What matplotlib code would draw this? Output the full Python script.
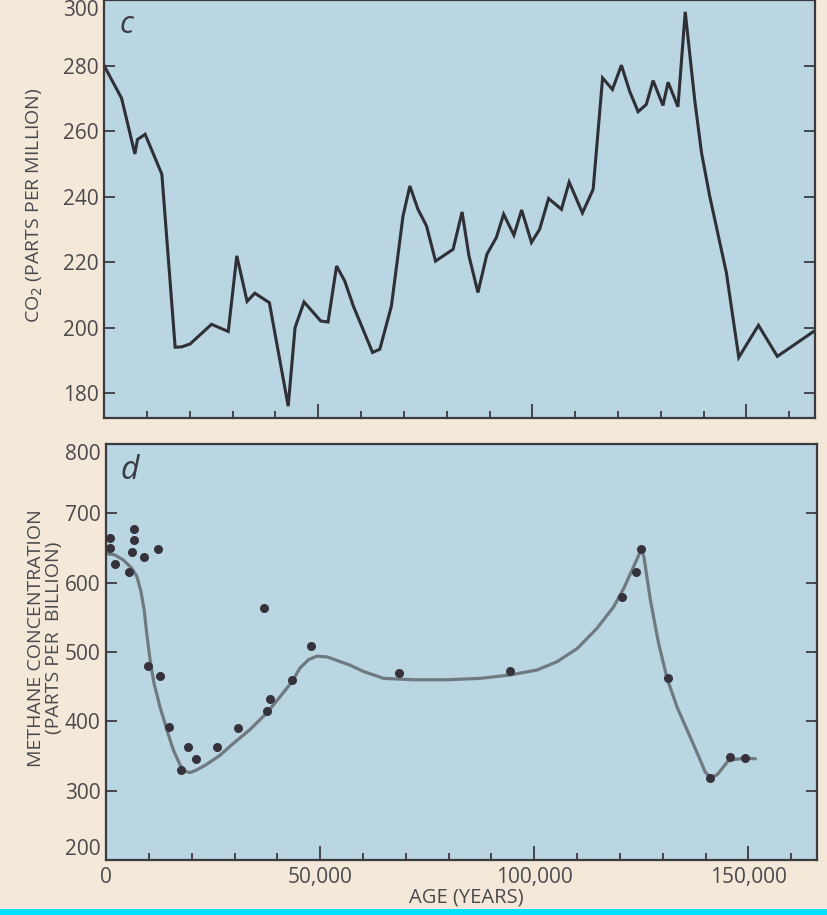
import numpy as np
import matplotlib
matplotlib.use("Agg")
import matplotlib.pyplot as plt
from matplotlib.ticker import MultipleLocator, FuncFormatter
from matplotlib.patches import Rectangle

# CO2 record (age in thousands of years, ppm)
co2_age = [0, 4.1, 7.2, 7.8, 9.6, 13.5, 16.6, 18.1, 20.1, 25.1, 29.0, 31.0, 33.4,
           35.2, 38.6, 43.0, 44.6, 46.7, 50.6, 52.3, 54.3, 56.2, 58.2, 62.7, 64.4,
           67.1, 69.8, 71.4, 73.3, 75.3, 77.4, 81.5, 83.6, 85.2, 87.3, 89.4, 91.6,
           93.3, 95.7, 97.5, 99.8, 101.7, 103.8, 106.8, 108.6, 111.7, 114.2, 116.4,
           118.7, 120.8, 122.7, 124.7, 126.6, 128.2, 130.5, 131.7, 134.0, 135.7,
           137.9, 139.5, 141.4, 145.3, 148.2, 152.8, 157.2, 165.9]
co2_ppm = [280, 270, 253, 257.4, 259, 246.8, 194, 194.1, 195, 201, 198.8, 221.9, 208,
           210.5, 207.6, 176, 200, 207.8, 202, 201.7, 218.8, 214.2, 206.6, 192.4,
           193.4, 206.6, 234, 243.2, 236.1, 231, 220.3, 223.9, 235.3, 221.9, 210.7,
           222.4, 227.5, 234.6, 228.2, 235.9, 226, 230, 239.4, 236.1, 244.4, 235,
           242.2, 276.2, 272.7, 280.1, 272.2, 265.9, 268.1, 275.4, 267.8, 274.9,
           267.4, 296.4, 269.6, 253.4, 240.2, 216.8, 190.9, 200.7, 191.2, 199]

# methane measurements (age in thousands of years, ppb)
ch4_age = [0.9, 0.9, 2.2, 5.4, 6.1, 6.5, 6.5, 8.9, 12.1, 9.7, 12.5, 14.6, 17.6, 19.2,
           20.9, 25.8, 30.9, 36.8, 37.5, 38.2, 43.4, 47.9, 68.5, 94.4, 120.5, 123.8,
           124.9, 131.2, 141.1, 145.7, 149.3]
ch4_ppb = [665, 650, 627, 615, 645, 661, 677, 637, 649, 480, 465, 392, 330, 363, 345,
           363, 390, 564, 415, 432, 460, 509, 470, 473, 579, 616, 648, 462, 319, 349, 347]

# smoothed methane trend
fit_age = [0.3, 2.1, 4.0, 6.0, 7.2, 8.1, 8.9, 9.5, 10.3, 11.2, 12.6, 14.2, 15.7, 17.3,
           18.5, 19.6, 21.2, 23.5, 26.6, 29.7, 33.6, 37.5, 40.7, 43.4, 45.3, 47.3,
           49.2, 51.6, 54.3, 57.0, 60.1, 64.8, 71.8, 79.6, 87.4, 94.4, 100.6, 105.3,
           110.0, 114.6, 118.5, 120.9, 122.8, 124.4, 124.9, 125.6, 127.1, 129.0,
           131.0, 133.3, 136.0, 138.4, 139.9, 141.1, 142.7, 145.4, 149.3, 151.6]
fit_ppb = [642, 640, 633, 621, 609, 589, 561, 527, 488, 455, 421, 388, 359, 337, 328,
           326, 330, 338, 351, 368, 388, 412, 436, 457, 477, 489, 494, 493, 487, 481,
           472, 462, 460, 460, 462, 467, 474, 486, 505, 534, 565, 592, 618, 640, 650,
           637, 575, 513, 462, 421, 383, 349, 327, 319, 323, 344, 347, 346]

bg = "#f4e8d8"
face = "#b9d6e2"
ink = "#4a4a4e"
frame = "#3a3a40"

plt.rcParams["font.family"] = ["Open Sans", "DejaVu Sans"]

fig = plt.figure(figsize=(8.27, 9.15), dpi=100, facecolor=bg)
ax1 = fig.add_axes([0.1258, 0.5432, 0.8597, 0.4568])
ax2 = fig.add_axes([0.1282, 0.0601, 0.8597, 0.4546])

k = 1000.0
ax1.plot(np.array(co2_age) * k, co2_ppm, color="#2f2f36", lw=2.2,
         solid_joinstyle="miter")
ax2.plot(np.array(fit_age) * k, fit_ppb, color="#6f7a80", lw=2.3,
         solid_joinstyle="round", solid_capstyle="round")
ax2.plot(np.array(ch4_age) * k, ch4_ppb, "o", color="#36323c", ms=6.5, mec="none")

ax1.set_ylim(172.4, 300)
ax1.set_yticks([180, 200, 220, 240, 260, 280, 300])
ax2.set_ylim(200, 800)
ax2.set_yticks([200, 300, 400, 500, 600, 700, 800])

for ax in (ax1, ax2):
    ax.set_facecolor(face)
    ax.set_xlim(0, 166000)
    ax.xaxis.set_major_locator(MultipleLocator(50000))
    ax.xaxis.set_minor_locator(MultipleLocator(10000))
    for s in ax.spines.values():
        s.set_color(frame)
        s.set_linewidth(1.6)
    ax.tick_params(axis="y", which="both", direction="in", right=True, length=8,
                   width=1.3, color=frame, labelsize=15, labelcolor=ink, pad=4)
    ax.tick_params(axis="x", which="major", direction="in", length=10, width=1.3,
                   color=frame, labelsize=15, labelcolor=ink, pad=5)
    ax.tick_params(axis="x", which="minor", direction="in", length=5, width=1.3,
                   color=frame)

ax1.tick_params(axis="x", labelbottom=False)
ax2.xaxis.set_major_formatter(FuncFormatter(lambda v, p: f"{v:,.0f}"))

# keep the end labels inside the frame
ax1.get_yticklabels()[-1].set_va("top")
ax2.get_yticklabels()[-1].set_va("top")
ax2.get_yticklabels()[0].set_va("bottom")

ax1.text(0.032, 0.975, "c", transform=ax1.transAxes, fontsize=22, style="italic",
         color="#3a3a44", va="top", ha="center")
ax2.text(0.034, 0.975, "d", transform=ax2.transAxes, fontsize=23, style="italic",
         color="#3a3a44", va="top", ha="center")

fig.text(35 / 827, 1 - 205 / 915, "CO$_2$ (PARTS PER MILLION)", rotation=90,
         ha="center", va="center", fontsize=14, color=ink)
fig.text(45 / 827, 1 - 638 / 915, "METHANE CONCENTRATION\n(PARTS PER  BILLION)",
         rotation=90, ha="center", va="center", fontsize=14, color=ink,
         linespacing=0.95)
fig.text(466 / 827, 1 - 897 / 915, "AGE (YEARS)", ha="center", va="center",
         fontsize=14.5, color=ink)

fig.patches.append(Rectangle((0, 0), 1, 6 / 915, transform=fig.transFigure,
                             facecolor="#00e1ff", edgecolor="none"))

fig.savefig("out.png", dpi=100, facecolor=bg)
